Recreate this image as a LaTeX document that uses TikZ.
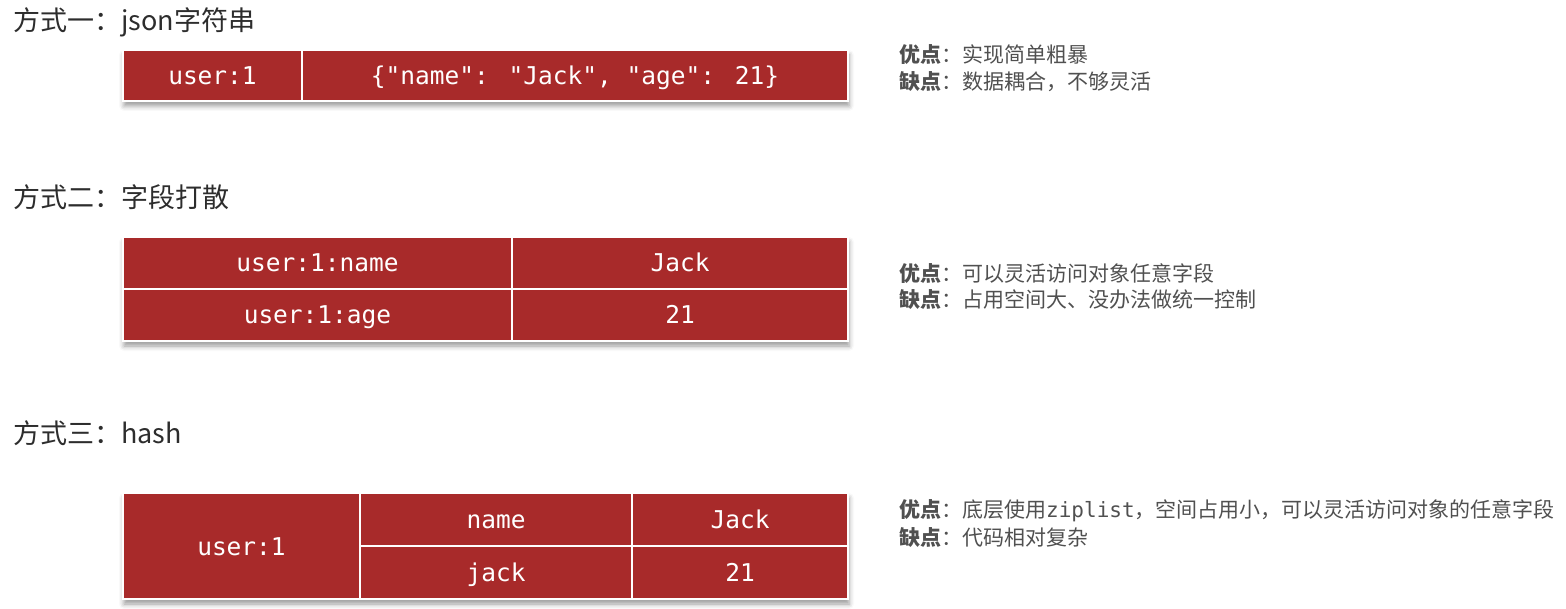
\documentclass[tikz,border=0pt]{standalone}
\usepackage{fontspec}
\usetikzlibrary{shadows.blur}
\newfontfamily\cjk{Noto Sans CJK SC}
\newfontfamily\cellfont{DejaVu Sans Mono}
\definecolor{cellred}{RGB}{168,42,42}
\definecolor{headgray}{RGB}{45,45,45}
\definecolor{notegray}{RGB}{80,80,80}

\begin{document}
\begin{tikzpicture}[x=1pt,y=-1pt]
	\tikzstyle{cell}=[rectangle,draw=white,line width=1.5pt,fill=cellred,text=white,outer sep=0pt,inner sep=0pt,text height=18pt,text depth=0pt,font=\cellfont\fontsize{24.5}{28}\selectfont]
	\tikzset{
		table box/.style={rectangle,fill=cellred,outer sep=0pt,inner sep=0pt,anchor=north west,blur shadow={shadow xshift=1pt,shadow yshift=-5pt,shadow blur radius=5pt,shadow opacity=40}},
		heading/.style={anchor=west,inner sep=0pt,text=headgray,font=\cjk\fontsize{27}{32}\selectfont},
		note/.style={anchor=west,inner sep=0pt,text=notegray,font=\cjk\fontsize{21}{24}\selectfont}
	}
	\useasboundingbox (0,0) rectangle (1566,609);
	% way 1: json string
	\node(h1)[heading] at (13,22){方式一：json字符串};
	\node(t1)[table box,minimum width=725pt,minimum height=51pt] at (123,50){};
	\node(t1key)[cell,anchor=north west,minimum width=179pt,minimum height=51pt] at (t1.north west){user:1};
	\node(t1val)[cell,anchor=west,minimum width=546pt,minimum height=51pt] at (t1key.east){\{"name": "Jack", "age": 21\}};
	\node(n1a)[note] at (899,55){{\bfseries 优点}：实现简单粗暴};
	\node(n1b)[note] at (899,82){{\bfseries 缺点}：数据耦合，不够灵活};
	% way 2: split fields
	\node(h2)[heading] at (13,197){方式二：字段打散};
	\node(t2)[table box,minimum width=725pt,minimum height=104pt] at (123,237){};
	\node(t2key1)[cell,anchor=north west,minimum width=389pt,minimum height=52pt] at (t2.north west){user:1:name};
	\node(t2val1)[cell,anchor=west,minimum width=336pt,minimum height=52pt] at (t2key1.east){Jack};
	\node(t2key2)[cell,anchor=north,minimum width=389pt,minimum height=52pt] at (t2key1.south){user:1:age};
	\node(t2val2)[cell,anchor=west,minimum width=336pt,minimum height=52pt] at (t2key2.east){21};
	\node(n2a)[note] at (899,274){{\bfseries 优点}：可以灵活访问对象任意字段};
	\node(n2b)[note] at (899,300){{\bfseries 缺点}：占用空间大、没办法做统一控制};
	% way 3: hash
	\node(h3)[heading] at (13,433){方式三：hash};
	\node(t3)[table box,minimum width=725pt,minimum height=106pt] at (123,493){};
	\node(t3key)[cell,anchor=north west,minimum width=237pt,minimum height=106pt] at (t3.north west){user:1};
	\node(t3f1)[cell,anchor=north west,minimum width=272pt,minimum height=53pt] at (t3key.north east){name};
	\node(t3v1)[cell,anchor=west,minimum width=216pt,minimum height=53pt] at (t3f1.east){Jack};
	\node(t3f2)[cell,anchor=north,minimum width=272pt,minimum height=53pt] at (t3f1.south){jack};
	\node(t3v2)[cell,anchor=west,minimum width=216pt,minimum height=53pt] at (t3f2.east){21};
	\node(n3a)[note] at (899,511){{\bfseries 优点}：底层使用{\cellfont ziplist}，空间占用小，可以灵活访问对象的任意字段};
	\node(n3b)[note] at (899,538){{\bfseries 缺点}：代码相对复杂};
\end{tikzpicture}
\end{document}
